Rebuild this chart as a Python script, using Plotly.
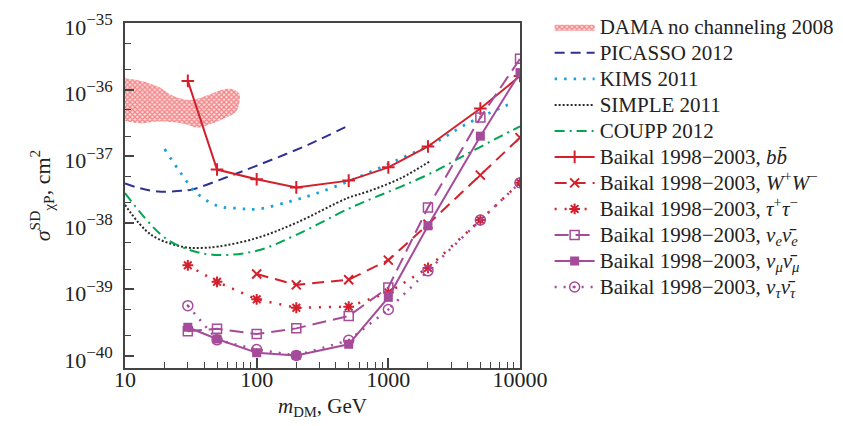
import plotly.graph_objects as go

# ---------------- data ----------------
mass = [30, 50, 100, 200, 500, 1000, 2000, 5000, 10000]
mass_ww = [100, 200, 500, 1000, 2000, 5000, 10000]
baikal_bb = [1.35e-36, 6.3e-38, 4.5e-38, 3.4e-38, 4.3e-38, 6.8e-38, 1.4e-37, 5.2e-37, 1.6e-36]
baikal_ww = [1.7e-39, 1.17e-39, 1.4e-39, 2.75e-39, 9.5e-39, 5.2e-38, 1.9e-37]
baikal_tt = [2.3e-39, 1.3e-39, 7.1e-40, 5.3e-40, 5.5e-40, 9.0e-40, 2.1e-39, 1.1e-38, 4.0e-38]
baikal_nue = [2.35e-40, 2.57e-40, 2.14e-40, 2.6e-40, 4.0e-40, 1.07e-39, 1.7e-38, 3.8e-37, 2.9e-36]
baikal_numu = [2.7e-40, 1.8e-40, 1.12e-40, 1.02e-40, 1.5e-40, 7.6e-40, 9.0e-39, 2.0e-37, 1.8e-36]
baikal_nutau = [5.7e-40, 1.75e-40, 1.25e-40, 1.02e-40, 1.72e-40, 5.0e-40, 1.9e-39, 1.1e-38, 4.0e-38]

picasso_m = [10, 13, 18, 25, 32, 57, 100, 245, 500]
picasso_s = [3.9e-38, 3.3e-38, 2.95e-38, 3.0e-38, 3.15e-38, 4.7e-38, 7.2e-38, 1.48e-37, 2.9e-37]

kims_m = [20, 26, 35, 51, 72, 100, 180, 290, 500, 700, 1250, 2260, 4000, 9000]
kims_s = [1.28e-37, 5.9e-38, 2.8e-38, 1.78e-38, 1.65e-38, 1.6e-38, 2.1e-38, 2.8e-38, 4.2e-38,
          5.6e-38, 9.3e-38, 1.6e-37, 3.1e-37, 6.5e-37]

simple_m = [10, 15.8, 28.4, 38, 51, 100, 200, 490, 700, 1250, 2050]
simple_s = [1.86e-38, 6.6e-39, 4.3e-39, 4.2e-39, 4.4e-39, 5.9e-39, 1.0e-38, 2.35e-38, 2.95e-38, 4.7e-38, 8.3e-38]

coupp_m = [10, 18.8, 28, 48, 100, 200, 490, 764, 1250, 2260, 4020, 7160, 10000]
coupp_s = [2.8e-38, 6.6e-39, 4.2e-39, 3.3e-39, 3.8e-39, 6.6e-39, 1.6e-38, 2.35e-38, 3.5e-38,
           5.95e-38, 1.1e-37, 2.0e-37, 2.8e-37]

dama_m = [10, 13.3, 17.8, 23.8, 31.8, 42.7, 53.7, 64.1, 73.5, 74.1,
          70, 57.1, 42.7, 35.8, 26.7, 17.8, 13.3, 10]
dama_s = [1.48e-36, 1.35e-36, 1.11e-36, 7.85e-37, 6.98e-37, 8.3e-37, 9.86e-37, 1.02e-36, 8.8e-37, 6.6e-37,
          4.68e-37, 3.72e-37, 2.95e-37, 2.69e-37, 3.13e-37, 3.31e-37, 3.13e-37, 3.39e-37]

x_tickvals = [10, 100, 1000, 10000]
x_ticktext = ["10", "100", "1000", "10000"]
y_tickvals = [1e-40, 1e-39, 1e-38, 1e-37, 1e-36, 1e-35]
y_exponents = ["−40", "−39", "−38", "−37", "−36", "−35"]

names = ["DAMA no channeling 2008", "PICASSO 2012", "KIMS 2011", "SIMPLE 2011", "COUPP 2012",
         "Baikal 1998−2003, <i>b</i><i>b̄</i>",
         "Baikal 1998−2003, <i>W</i><sup>+</sup><i>W</i><sup>−</sup>",
         "Baikal 1998−2003, <i>τ</i><sup>+</sup><i>τ</i><sup>−</sup>",
         "Baikal 1998−2003, <i>ν<sub>e</sub>ν̄<sub>e</sub></i>",
         "Baikal 1998−2003, <i>ν<sub>μ</sub>ν̄<sub>μ</sub></i>",
         "Baikal 1998−2003, <i>ν<sub>τ</sub>ν̄<sub>τ</sub></i>"]

# ---------------- style ----------------
RED = "#d4202c"
NAVY = "#2e3192"
CYAN = "#1ba1dc"
BLACK = "#2a2a2a"
GREEN = "#00a651"
PURPLE = "#a54b9a"
FONT = "Liberation Serif"

y_ticktext = ['10<sup><span style="font-size:17px">' + e + '</span></sup>' for e in y_exponents]


def lg(t):
    return '<span style="font-size:21px">' + t + '</span>'


fig = go.Figure()

fig.add_trace(go.Scatter(
    x=dama_m, y=dama_s, mode="lines", fill="toself", line=dict(width=0, shape="spline", color=RED),
    fillcolor="rgba(255,255,255,0)",
    fillpattern=dict(shape="x", fgcolor="rgba(230,35,40,1)", bgcolor="rgba(255,205,205,0.6)", size=3.5, solidity=0.6),
    name=lg(names[0])))

fig.add_trace(go.Scatter(x=picasso_m, y=picasso_s, mode="lines", line=dict(color=NAVY, width=2, dash="10px,6px", shape="spline"),
                         name=lg(names[1])))
fig.add_trace(go.Scatter(x=kims_m, y=kims_s, mode="lines", line=dict(color=CYAN, width=2.8, dash="2.5px,7px", shape="spline"),
                         name=lg(names[2])))
fig.add_trace(go.Scatter(x=simple_m, y=simple_s, mode="lines", line=dict(color=BLACK, width=2, dash="2px,2px", shape="spline"),
                         name=lg(names[3])))
fig.add_trace(go.Scatter(x=coupp_m, y=coupp_s, mode="lines", line=dict(color=GREEN, width=2, dash="10px,5px,2px,5px", shape="spline"),
                         name=lg(names[4])))

fig.add_trace(go.Scatter(x=mass, y=baikal_bb, mode="lines+markers", line=dict(color=RED, width=2),
                         marker=dict(symbol="cross-thin-open", size=9, color=RED, line=dict(width=2, color=RED)),
                         name=lg(names[5])))
fig.add_trace(go.Scatter(x=mass_ww, y=baikal_ww, mode="lines+markers", line=dict(color=RED, width=2, dash="12px,7px"),
                         marker=dict(symbol="x-thin-open", size=9, color=RED, line=dict(width=2, color=RED)),
                         name=lg(names[6])))
fig.add_trace(go.Scatter(x=mass, y=baikal_tt, mode="lines+markers", line=dict(color=RED, width=2.5, dash="2px,8px"),
                         marker=dict(symbol="asterisk-open", size=9, color=RED, line=dict(width=2, color=RED)),
                         name=lg(names[7])))
fig.add_trace(go.Scatter(x=mass, y=baikal_nue, mode="lines+markers", line=dict(color=PURPLE, width=2, dash="14px,7px"),
                         marker=dict(symbol="square-open", size=9, color=PURPLE, line=dict(width=1.5, color=PURPLE)),
                         name=lg(names[8])))
fig.add_trace(go.Scatter(x=mass, y=baikal_numu, mode="lines+markers", line=dict(color=PURPLE, width=2),
                         marker=dict(symbol="square", size=9, color=PURPLE),
                         name=lg(names[9])))
fig.add_trace(go.Scatter(x=mass, y=baikal_nutau, mode="lines+markers", line=dict(color=PURPLE, width=2.5, dash="2px,7px"),
                         marker=dict(symbol="circle-open-dot", size=10, color=PURPLE, line=dict(width=1.5, color=PURPLE)),
                         name=lg(names[10])))

axis_common = dict(showline=True, linecolor="#444", linewidth=1.5, mirror=True, showgrid=False, zeroline=False,
                   ticks="inside", tickcolor="#444", tickwidth=1.5, automargin=False, ticklabeloverflow="allow",
                   tickfont=dict(family=FONT, size=22, color="#222"))

fig.update_xaxes(type="log", range=[1, 4], tickvals=x_tickvals, ticktext=x_ticktext, ticklen=10,
                 ticklabelstandoff=-9,
                 minor=dict(ticks="inside", ticklen=6, tickcolor="#444", tickwidth=1.2, dtick="D1"),
                 title=dict(text="<i>m</i><sub>DM</sub>, GeV", font=dict(family=FONT, size=21, color="#222"), standoff=7),
                 **axis_common)
fig.update_yaxes(type="log", range=[-40.18, -35.0], tickvals=y_tickvals, ticktext=y_ticktext, ticklen=9,
                 ticklabelstandoff=6, ticklabelshift=4,
                 minor=dict(ticks="inside", ticklen=6, tickcolor="#444", tickwidth=1.2, dtick="D2"),
                 title=dict(text="<i>σ</i><sup>SD</sup><sub>χP</sub>, cm<sup>2</sup>", font=dict(family=FONT, size=22, color="#222"), standoff=8),
                 **axis_common)

fig.update_layout(
    width=843, height=426,
    margin=dict(l=117, r=331, t=15, b=66, autoexpand=False),
    paper_bgcolor="white", plot_bgcolor="white",
    font=dict(family=FONT, size=20, color="#222"),
    showlegend=True,
    legend=dict(x=1.075, y=0.998, xref="paper", yref="container", xanchor="left", yanchor="top",
                bgcolor="rgba(0,0,0,0)", maxheight=410,
                font=dict(family=FONT, size=17.7, color="#222"), itemwidth=40, tracegroupgap=0),
)

fig.write_html("out.html")
